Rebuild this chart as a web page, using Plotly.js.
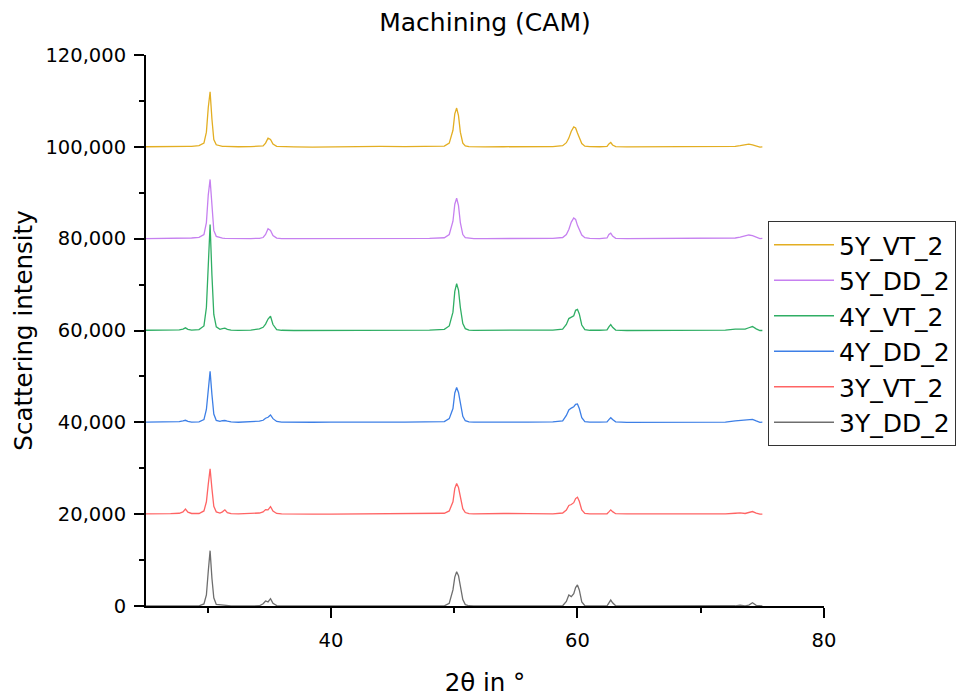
<!DOCTYPE html>
<html>
<head>
<meta charset="utf-8">
<script src="https://cdn.plot.ly/plotly-3.0.1.min.js"></script>
<style>html,body{margin:0;padding:0;background:#fff;}#chart{width:967px;height:698px;}</style>
</head>
<body>
<div id="chart"></div>
<script>
// 2θ positions (degrees)
const twoTheta = [
  25, 26, 27, 27.7, 28.0, 28.2, 28.4, 28.7,
  29.3, 29.7, 29.9, 30.05, 30.2, 30.35, 30.5, 30.7,
  31.0, 31.2, 31.4, 31.6, 31.9, 32.5, 33.5, 34.2,
  34.5, 34.7, 34.9, 35.1, 35.3, 35.6, 36.0, 37,
  38.5, 40, 42, 43, 44, 46, 48, 49.2,
  49.6, 49.9, 50.05, 50.2, 50.35, 50.5, 50.7, 50.9,
  51.2, 51.6, 52.5, 54, 56, 58, 58.8, 59.1,
  59.3, 59.5, 59.7, 59.85, 60.0, 60.15, 60.35, 60.6, 61.0,
  61.8, 62.4, 62.55, 62.7, 62.85, 63.1,
  64, 66, 68, 70, 72,
  72.8, 73.2, 73.6, 73.9, 74.2, 74.5, 74.8, 75.0
];

// Series names (bottom to top)
const seriesNames = ['3Y_DD_2', '3Y_VT_2', '4Y_DD_2', '4Y_VT_2', '5Y_DD_2', '5Y_VT_2'];
// Vertical offsets of each pattern (intensity units)
const offsets = [0, 20000, 40000, 60000, 80000, 100000];

// Intensities above each pattern's own baseline
const y3Y_DD_2 = [
  0, 0, 0, 30, 80, 150, 60, 20,
  30, 450, 2400, 7500, 12050, 6000, 1800, 350,
  250, 300, 200, 100, 30, 0, 0, 50,
  500, 1100, 900, 1600, 600, 100, 0, 0,
  0, 0, 0, 0, 0, 0, 0, 20,
  600, 3500, 6300, 7470, 6600, 4300, 1400, 300,
  50, 0, 0, 0, 0, 0, 50, 1000,
  2400, 2050, 2700, 4000, 4575, 3500, 900, 50, 0,
  0, 30, 600, 1300, 700, 50,
  0, 0, 0, 0, 0,
  50, 200, 50, 200, 700, 150, 0, 0
];
const y3Y_VT_2 = [
  80, 60, 100, 200, 500, 1100, 450, 150,
  150, 700, 2700, 6500, 9900, 5500, 1700, 500,
  250, 500, 950, 350, 100, 50, 80, 250,
  500, 1000, 950, 1650, 700, 150, 50, 0,
  0, 30, 80, 100, 50, 80, 100, 200,
  700, 2700, 5600, 6700, 5800, 3500, 1200, 350,
  100, 50, 30, 150, 120, 80, 250, 900,
  1900, 2100, 2500, 3400, 3700, 2800, 900, 150, 50,
  30, 80, 500, 940, 550, 100,
  50, 30, 50, 30, 80,
  200, 280, 150, 300, 570, 250, 0, 20
];
const y4Y_DD_2 = [
  30, 50, 80, 150, 300, 440, 200, 50,
  100, 600, 2800, 7000, 11100, 6000, 1800, 400,
  200, 350, 400, 250, 80, 20, 60, 250,
  450, 900, 1100, 1600, 800, 200, 50, 0,
  20, 50, 100, 80, 50, 30, 60, 150,
  800, 3000, 6400, 7600, 6500, 3800, 1300, 350,
  100, 40, 20, 40, 60, 100, 300, 1500,
  2700, 3100, 3400, 3900, 4000, 3000, 1000, 150, 50,
  30, 100, 600, 1000, 600, 100,
  0, 20, 40, 20, 50,
  300, 400, 350, 450, 650, 300, 0, 50
];
const y4Y_VT_2 = [
  50, 30, 60, 150, 300, 580, 250, 80,
  200, 1000, 5000, 14000, 23100, 12000, 3500, 800,
  250, 400, 500, 250, 80, 30, 100, 350,
  700, 1400, 2500, 3100, 1300, 200, 50, 0,
  0, 20, 50, 100, 60, 40, 80, 250,
  1000, 4000, 8500, 10200, 8800, 5000, 1500, 400,
  100, 30, 20, 50, 80, 100, 300, 1300,
  2600, 2900, 3200, 4400, 4600, 3600, 1200, 200, 50,
  50, 150, 800, 1300, 700, 100,
  0, 20, 50, 30, 100,
  300, 380, 300, 600, 870, 350, 0, 0
];
const y5Y_DD_2 = [
  30, 20, 40, 60, 80, 100, 120, 150,
  300, 900, 3500, 9500, 12900, 6500, 1800, 500,
  200, 100, 80, 60, 50, 40, 30, 80,
  250, 900, 2150, 1800, 700, 120, 30, 20,
  20, 50, 100, 150, 80, 40, 60, 200,
  900, 3800, 7500, 8800, 7200, 3500, 900, 200,
  60, 30, 20, 40, 30, 60, 250, 900,
  2000, 3600, 4500, 4200, 2900, 1900, 800, 200, 50,
  30, 150, 900, 1200, 550, 80,
  20, 40, 50, 30, 60,
  150, 350, 600, 800, 650, 250, 20, 80
];
const y5Y_VT_2 = [
  20, 0, 30, 50, 70, 90, 100, 120,
  250, 800, 3200, 8500, 12000, 6000, 1600, 450,
  180, 100, 80, 60, 40, 20, 40, 150,
  200, 800, 1900, 1600, 600, 100, 30, 0,
  -50, 0, 80, 150, 80, 30, 40, 150,
  800, 3600, 7200, 8450, 6800, 3200, 800, 200,
  50, 20, 0, 20, 0, 50, 250, 900,
  1900, 3400, 4360, 4100, 3000, 1800, 700, 150, 30,
  20, 100, 650, 940, 400, 60,
  0, 20, 30, 20, 50,
  100, 250, 450, 580, 450, 150, -50, 0
];

const seriesValues = [y3Y_DD_2, y3Y_VT_2, y4Y_DD_2, y4Y_VT_2, y5Y_DD_2, y5Y_VT_2];
const seriesColors = ['#6e6e6e', '#ff6464', '#3d7fe6', '#2fae64', '#c680f0', '#e3ae22'];

const traces = seriesNames.map((name, i) => ({
  type: 'scatter',
  mode: 'lines',
  name: name,
  x: twoTheta,
  y: seriesValues[i].map(v => v + offsets[i]),
  line: {color: seriesColors[i], width: 1.3},
  hoverinfo: 'x+y+name'
}));

const FONT = 'DejaVu Sans, Liberation Sans, Arial, sans-serif';

const layout = {
  width: 967,
  height: 698,
  paper_bgcolor: '#ffffff',
  plot_bgcolor: '#ffffff',
  margin: {l: 146, r: 142, t: 55, b: 92, pad: 0},
  font: {family: FONT, color: '#000000'},
  title: {
    text: 'Machining (CAM)',
    font: {family: FONT, size: 25, color: '#000'},
    x: 0.5, xref: 'paper', xanchor: 'center',
    y: 1 - 22 / 698, yref: 'container', yanchor: 'middle'
  },
  xaxis: {
    range: [25, 80],
    tick0: 0, dtick: 20,
    showgrid: false, zeroline: false,
    showline: true, linecolor: '#000', linewidth: 2,
    ticks: 'outside', ticklen: 10, tickwidth: 2, tickcolor: '#000',
    minor: {dtick: 10, tick0: 0, ticks: 'outside', ticklen: 5, tickwidth: 2, tickcolor: '#000', showgrid: false},
    tickfont: {family: FONT, size: 19.5, color: '#000'},
    ticklabelstandoff: 6,
    title: {text: '2θ in °', font: {family: FONT, size: 24.5, color: '#000'}, standoff: 22},
    automargin: false
  },
  yaxis: {
    range: [0, 120000],
    tick0: 0, dtick: 20000,
    tickformat: ',d',
    showgrid: false, zeroline: false,
    showline: true, linecolor: '#000', linewidth: 2,
    ticks: 'outside', ticklen: 10, tickwidth: 2, tickcolor: '#000',
    minor: {dtick: 10000, tick0: 0, ticks: 'outside', ticklen: 5, tickwidth: 2, tickcolor: '#000', showgrid: false},
    tickfont: {family: FONT, size: 19.5, color: '#000'},
    ticklabelstandoff: 4,
    title: {text: 'Scattering intensity', font: {family: FONT, size: 24.5, color: '#000'}, standoff: 6},
    automargin: false
  },
  showlegend: true,
  legend: {
    x: (768 - 146) / 679, xref: 'paper', xanchor: 'left',
    y: (606 - 221) / 551, yref: 'paper', yanchor: 'top',
    traceorder: 'reversed',
    bgcolor: '#ffffff',
    bordercolor: '#333333', borderwidth: 1,
    font: {family: FONT, size: 25, color: '#000'},
    itemwidth: 60
  }
};

Plotly.newPlot('chart', traces, layout, {displayModeBar: false, staticPlot: true});
</script>
</body>
</html>
